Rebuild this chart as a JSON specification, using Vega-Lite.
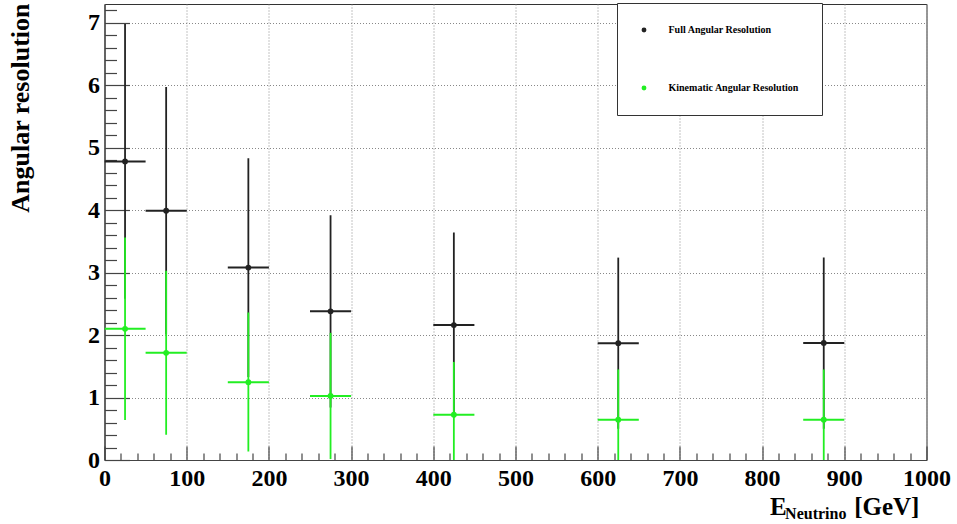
{
  "$schema": "https://vega.github.io/schema/vega-lite/v6.json",
  "width": 822,
  "height": 456,
  "autosize": {"type": "none"},
  "padding": {"left": 104.5, "top": 4, "right": 30.5, "bottom": 64},
  "background": "white",
  "config": {
    "view": {"stroke": "#333", "strokeWidth": 1},
    "font": "Liberation Serif",
    "legend": {"strokeWidth": 1}
  },
  "data": {
    "values": [
      {"series": "Full Angular Resolution", "E": 25, "Elo": 0, "Ehi": 50, "res": 4.78, "reslo": 2.58, "reshi": 6.98},
      {"series": "Full Angular Resolution", "E": 75, "Elo": 50, "Ehi": 100, "res": 3.99, "reslo": 2.01, "reshi": 5.97},
      {"series": "Full Angular Resolution", "E": 175, "Elo": 150, "Ehi": 200, "res": 3.08, "reslo": 1.33, "reshi": 4.83},
      {"series": "Full Angular Resolution", "E": 275, "Elo": 250, "Ehi": 300, "res": 2.38, "reslo": 0.84, "reshi": 3.92},
      {"series": "Full Angular Resolution", "E": 425, "Elo": 400, "Ehi": 450, "res": 2.16, "reslo": 0.68, "reshi": 3.64},
      {"series": "Full Angular Resolution", "E": 625, "Elo": 600, "Ehi": 650, "res": 1.87, "reslo": 0.5, "reshi": 3.24},
      {"series": "Full Angular Resolution", "E": 875, "Elo": 850, "Ehi": 900, "res": 1.875, "reslo": 0.5, "reshi": 3.24},
      {"series": "Kinematic Angular Resolution", "E": 25, "Elo": 0, "Ehi": 50, "res": 2.1, "reslo": 0.64, "reshi": 3.56},
      {"series": "Kinematic Angular Resolution", "E": 75, "Elo": 50, "Ehi": 100, "res": 1.715, "reslo": 0.405, "reshi": 3.03},
      {"series": "Kinematic Angular Resolution", "E": 175, "Elo": 150, "Ehi": 200, "res": 1.245, "reslo": 0.135, "reshi": 2.36},
      {"series": "Kinematic Angular Resolution", "E": 275, "Elo": 250, "Ehi": 300, "res": 1.025, "reslo": 0.015, "reshi": 2.035},
      {"series": "Kinematic Angular Resolution", "E": 425, "Elo": 400, "Ehi": 450, "res": 0.726, "reslo": -0.12, "reshi": 1.57},
      {"series": "Kinematic Angular Resolution", "E": 625, "Elo": 600, "Ehi": 650, "res": 0.646, "reslo": -0.16, "reshi": 1.45},
      {"series": "Kinematic Angular Resolution", "E": 875, "Elo": 850, "Ehi": 900, "res": 0.646, "reslo": -0.16, "reshi": 1.45}
    ]
  },
  "layer": [
    {
      "mark": {"type": "rule", "strokeWidth": 1.8, "clip": true},
      "encoding": {
        "x": {
          "field": "E", "type": "quantitative",
          "scale": {"domain": [0, 1000], "nice": false, "zero": false},
          "axis": {
            "values": [0, 20, 40, 60, 80, 100, 120, 140, 160, 180, 200, 220, 240, 260, 280, 300, 320, 340, 360, 380, 400, 420, 440, 460, 480, 500, 520, 540, 560, 580, 600, 620, 640, 660, 680, 700, 720, 740, 760, 780, 800, 820, 840, 860, 880, 900, 920, 940, 960, 980, 1000],
            "tickCount": 100,
            "labelExpr": "datum.value % 100 === 0 ? '' + datum.value : ''",
            "title": null,
            "labelFont": "Liberation Serif", "labelFontWeight": "bold", "labelFontSize": 24, "labelColor": "#000",
            "labelPadding": 20, "labelFlush": false, "labelOverlap": false, "labelBound": false,
            "tickSize": {"condition": {"test": "datum.value % 100 === 0", "value": -14}, "value": -7},
            "tickColor": "#444", "tickWidth": 1.2,
            "domainColor": "#444", "domainWidth": 1.2,
            "grid": true, "gridDash": [1, 2], "gridColor": "#888", "gridWidth": 1,
            "gridOpacity": {"condition": {"test": "datum.value % 100 === 0", "value": 1}, "value": 0}
          }
        },
        "y": {
          "field": "reslo", "type": "quantitative",
          "scale": {"domain": [0, 7.3], "nice": false, "zero": false},
          "axis": {
            "values": [0, 0.2, 0.4, 0.6, 0.8, 1, 1.2, 1.4, 1.6, 1.8, 2, 2.2, 2.4, 2.6, 2.8, 3, 3.2, 3.4, 3.6, 3.8, 4, 4.2, 4.4, 4.6, 4.8, 5, 5.2, 5.4, 5.6, 5.8, 6, 6.2, 6.4, 6.6, 6.8, 7, 7.2],
            "tickCount": 100,
            "labelExpr": "datum.value % 1 === 0 ? '' + datum.value : ''",
            "title": "Angular resolution",
            "titleFont": "Liberation Serif", "titleFontWeight": "bold", "titleFontSize": 26, "titleColor": "#000",
            "titleAngle": -90, "titleAlign": "right", "titleBaseline": "alphabetic", "titleX": -76, "titleY": -1,
            "labelFont": "Liberation Serif", "labelFontWeight": "bold", "labelFontSize": 24, "labelColor": "#000",
            "labelPadding": 30, "labelFlush": false, "labelOverlap": false, "labelBound": false,
            "tickSize": {"condition": {"test": "datum.value % 1 === 0", "value": -25}, "value": -12},
            "tickColor": "#444", "tickWidth": 1.2,
            "domainColor": "#444", "domainWidth": 1.2,
            "grid": true, "gridDash": [1, 2], "gridColor": "#888", "gridWidth": 1,
            "gridOpacity": {"condition": {"test": "datum.value % 1 === 0", "value": 1}, "value": 0}
          }
        },
        "y2": {"field": "reshi"},
        "color": {
          "field": "series", "type": "nominal",
          "scale": {"domain": ["Full Angular Resolution", "Kinematic Angular Resolution"], "range": ["#222222", "#22ee22"]},
          "legend": {
            "title": null,
            "orient": "none", "legendX": 512.5, "legendY": -1,
            "direction": "vertical",
            "fillColor": "white", "strokeColor": "#333",
            "padding": 22, "rowPadding": 48,
            "symbolType": "circle", "symbolSize": 24, "symbolStrokeWidth": 0,
            "labelFont": "Liberation Serif", "labelFontWeight": "bold", "labelFontSize": 10, "labelColor": "#000",
            "labelOffset": 19.5, "labelLimit": 300,
            "encode": {"symbols": {"update": {"fill": {"scale": "color", "field": "value"}, "fillOpacity": {"value": 1}}}}
          }
        }
      }
    },
    {
      "mark": {"type": "rule", "strokeWidth": 2, "clip": true},
      "encoding": {
        "x": {"field": "Elo", "type": "quantitative"},
        "x2": {"field": "Ehi"},
        "y": {"field": "res", "type": "quantitative"},
        "color": {"field": "series", "type": "nominal"}
      }
    },
    {
      "mark": {"type": "point", "filled": true, "shape": "circle", "size": 34, "opacity": 1},
      "encoding": {
        "x": {"field": "E", "type": "quantitative"},
        "y": {"field": "res", "type": "quantitative"},
        "color": {"field": "series", "type": "nominal"}
      }
    },
    {
      "data": {"values": [{"t": "E"}]},
      "mark": {"type": "text", "align": "left", "baseline": "alphabetic", "font": "Liberation Serif", "fontWeight": "bold", "fontSize": 25, "color": "#000"},
      "encoding": {
        "x": {"datum": 809.5, "type": "quantitative"},
        "y": {"datum": -0.88, "type": "quantitative"},
        "text": {"field": "t"}
      }
    },
    {
      "data": {"values": [{"t": "Neutrino"}]},
      "mark": {"type": "text", "align": "left", "baseline": "alphabetic", "font": "Liberation Serif", "fontWeight": "bold", "fontSize": 16, "color": "#000"},
      "encoding": {
        "x": {"datum": 828, "type": "quantitative"},
        "y": {"datum": -0.95, "type": "quantitative"},
        "text": {"field": "t"}
      }
    },
    {
      "data": {"values": [{"t": "[GeV]"}]},
      "mark": {"type": "text", "align": "left", "baseline": "alphabetic", "font": "Liberation Serif", "fontWeight": "bold", "fontSize": 25, "color": "#000"},
      "encoding": {
        "x": {"datum": 912, "type": "quantitative"},
        "y": {"datum": -0.88, "type": "quantitative"},
        "text": {"field": "t"}
      }
    }
  ]
}
